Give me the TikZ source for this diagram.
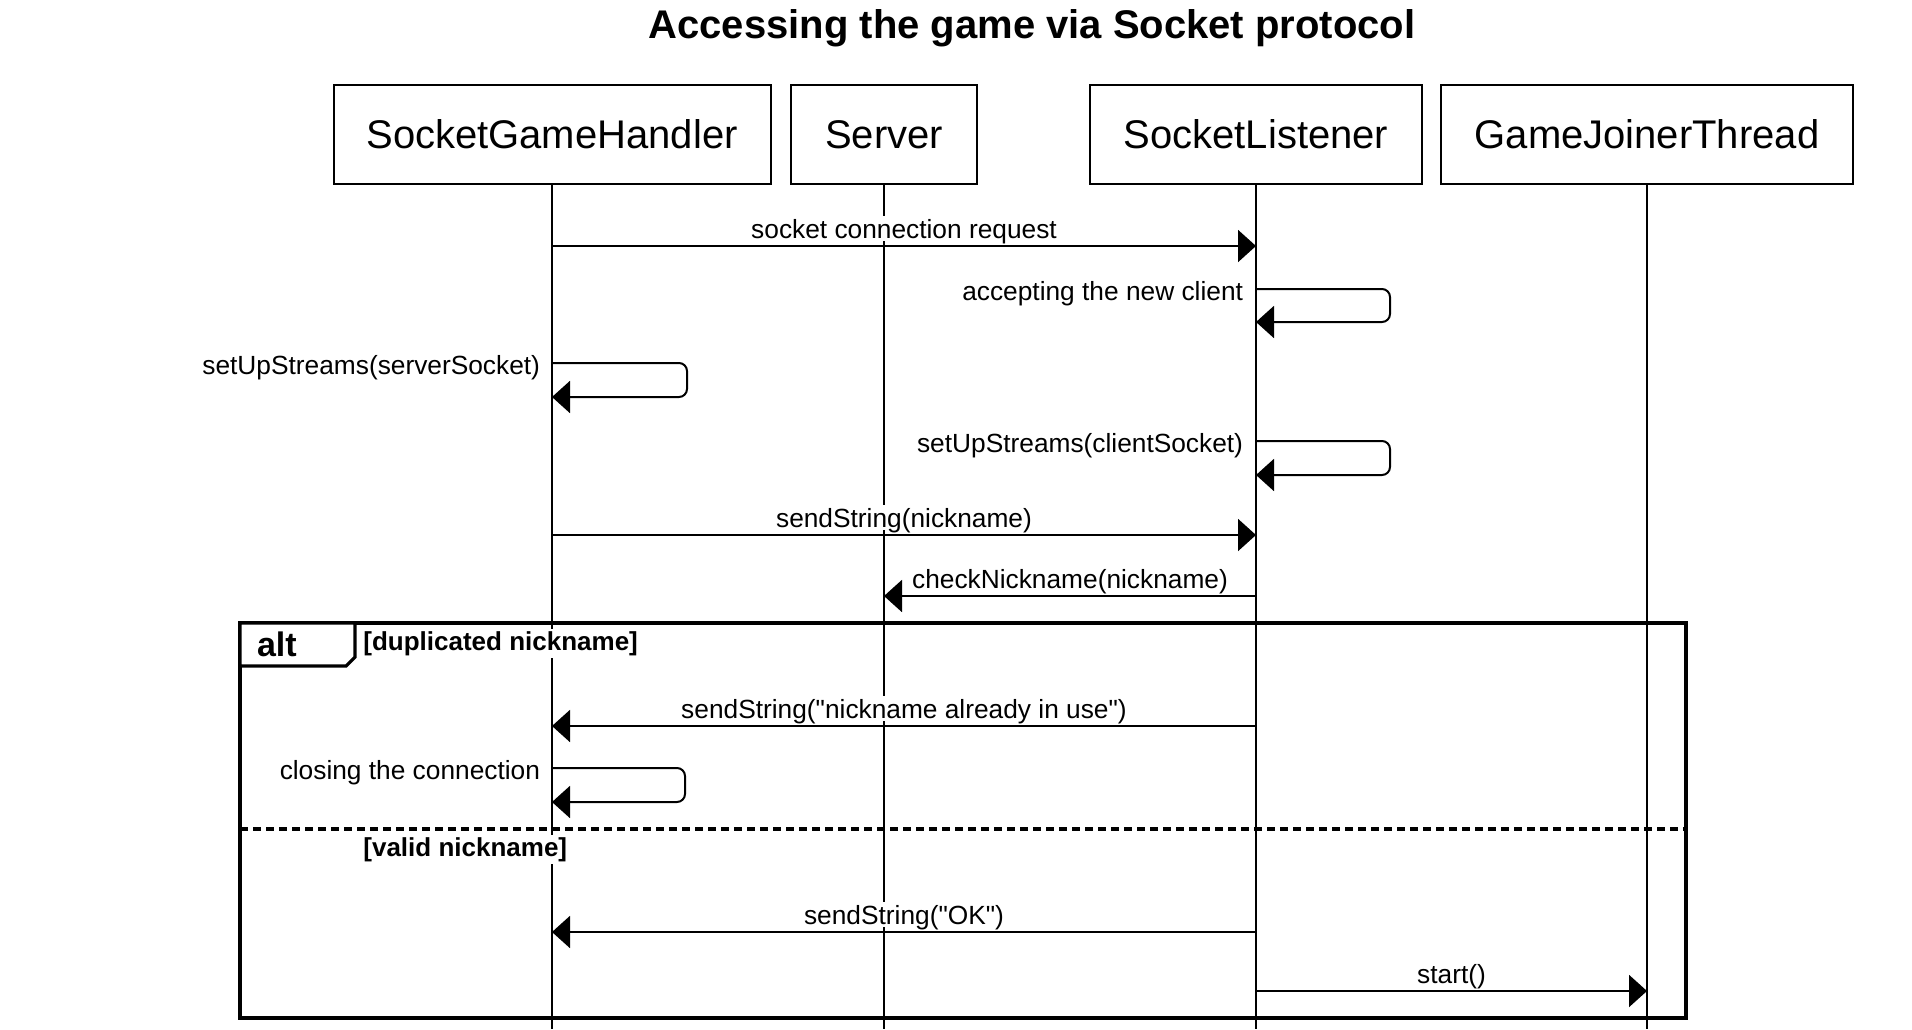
\documentclass[tikz,border=0pt]{standalone}
\usepackage{fontspec}
\setmainfont{Liberation Sans}[Ligatures=TeXOff]
\usetikzlibrary{arrows.meta,positioning,calc}

\begin{document}
\begin{tikzpicture}[
  x=0.5pt,
  y=-0.5pt,
  actor/.style={
    draw,
    line width=1pt,
    minimum height=49.5pt,
    inner sep=0pt,
    font=\fontsize{20}{24}\selectfont
  },
  lifeline/.style={
    line width=0.8pt
  },
  msg/.style={
    -{Triangle[length=9pt,width=16pt]},
    line width=1pt
  },
  selfmsg/.style={
    msg,
    rounded corners=4pt
  },
  lbl/.style={
    fill=white,
    inner sep=1.5pt,
    font=\fontsize{13.15}{15}\selectfont
  },
  msglbl/.style={
    lbl,
    text depth=0pt,
    above=1.8pt
  },
  guard/.style={
    fill=white,
    inner sep=1pt,
    font=\bfseries\fontsize{13}{15}\selectfont
  },
  frame/.style={
    line width=1.6pt
  }
]
\useasboundingbox (0,0) rectangle (1912,1029);

\node[font=\bfseries\fontsize{20}{24}\selectfont] (title) at (1032,28.5)
  {Accessing the game via Socket protocol};

\node[actor,minimum width=218.5pt] (sgh) at (552,134.5) {SocketGameHandler};
\node[actor,minimum width=93pt,right=9.25pt of sgh] (srv) {Server};
\node[actor,minimum width=166pt,right=55.5pt of srv] (lst) {SocketListener};
\node[actor,minimum width=206pt,right=8.5pt of lst] (gjt) {GameJoinerThread};

% message heights
\foreach \n/\y in {1/246,2/289,3/363,4/441,5/535,6/596,7/726,8/768,9/932,10/991}
  \coordinate (m\n) at (0,\y);
\coordinate (bot) at (0,1029);

% Lifelines
\foreach \a in {sgh,srv,lst,gjt}
  \draw[lifeline] (\a.south) -- (\a |- bot);

% alt fragment
\draw[frame] (240,623) rectangle (1686,1018);
\draw[frame,fill=white]
  (240,623) -- (355,623) -- (355,657) -- (346,666) -- (240,666) -- cycle;
\node[font=\bfseries\fontsize{17}{20}\selectfont,anchor=west] (alt) at (250,644) {alt};
\node[guard,anchor=west] (g1) at (361,643.5) {[duplicated nickname]};
\draw[frame,dash pattern=on 4pt off 2.5pt] (240,829) -- (1686,829);
\node[guard,anchor=west] (g2) at (361,849.5) {[valid nickname]};

% Connection set-up
\draw[msg]
  (sgh |- m1) --
  node[msglbl]{socket connection request}
  (lst |- m1);

\draw[selfmsg]
  (lst |- m2) node[lbl,anchor=east,xshift=-4.5pt,yshift=-2.5pt]{accepting the new client}
  -- ++(134,0) -- ++(0,33) -- ++(-134,0);

\draw[selfmsg]
  (sgh |- m3) node[lbl,anchor=east,xshift=-4pt,yshift=-2.5pt]{setUpStreams(serverSocket)}
  -- ++(135,0) -- ++(0,34) -- ++(-135,0);

\draw[selfmsg]
  (lst |- m4) node[lbl,anchor=east,xshift=-4.5pt,yshift=-2.5pt]{setUpStreams(clientSocket)}
  -- ++(134,0) -- ++(0,34) -- ++(-134,0);

% Nickname check
\draw[msg]
  (sgh |- m5) --
  node[msglbl]{sendString(nickname)}
  (lst |- m5);

\draw[msg]
  (lst |- m6) --
  node[msglbl]{checkNickname(nickname)}
  (srv |- m6);

% duplicated nickname
\draw[msg]
  (lst |- m7) --
  node[msglbl]{sendString("nickname already in use")}
  (sgh |- m7);

\draw[selfmsg]
  (sgh |- m8) node[lbl,anchor=east,xshift=-4pt,yshift=-2.5pt]{closing the connection}
  -- ++(133,0) -- ++(0,34) -- ++(-133,0);

% valid nickname
\draw[msg]
  (lst |- m9) --
  node[msglbl]{sendString("OK")}
  (sgh |- m9);

\draw[msg]
  (lst |- m10) --
  node[msglbl]{start()}
  (gjt |- m10);

\end{tikzpicture}
\end{document}
